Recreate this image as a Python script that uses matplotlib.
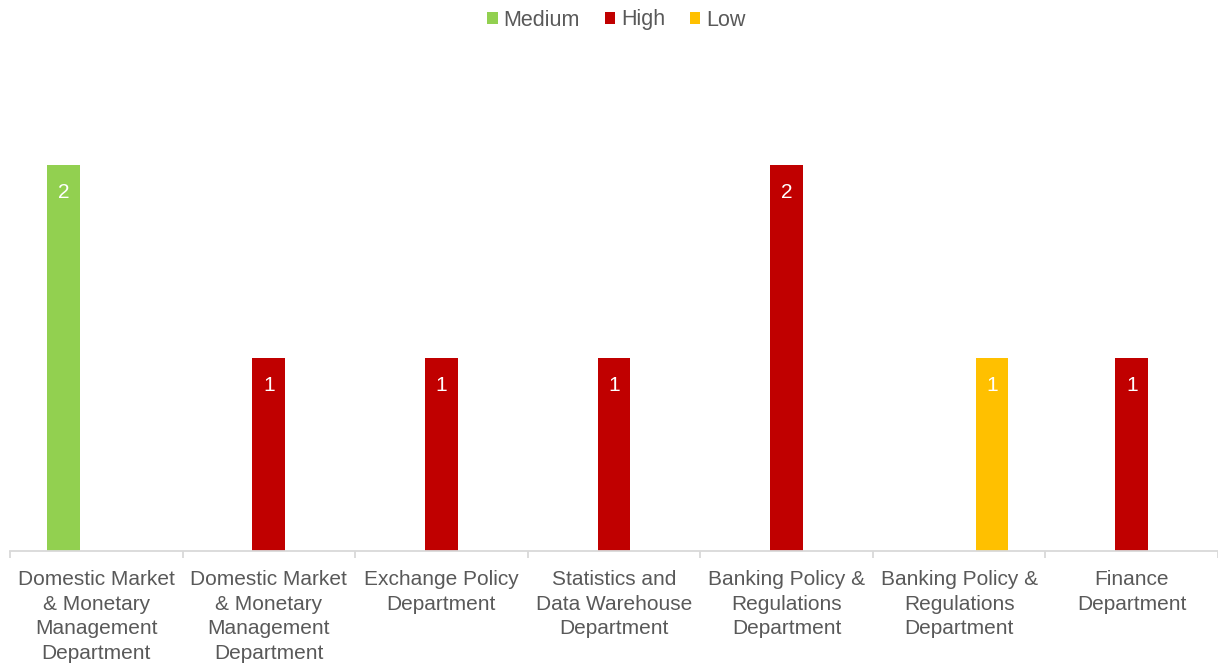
import matplotlib
matplotlib.use('Agg')
import matplotlib.pyplot as plt
import numpy as np

categories = [
    'Domestic Market\n& Monetary\nManagement\nDepartment',
    'Domestic Market\n& Monetary\nManagement\nDepartment',
    'Exchange Policy\nDepartment',
    'Statistics and\nData Warehouse\nDepartment',
    'Banking Policy &\nRegulations\nDepartment',
    'Banking Policy &\nRegulations\nDepartment',
    'Finance\nDepartment',
]
series_names = ['Medium', 'High', 'Low']
medium = [2, 0, 0, 0, 0, 0, 0]
high = [0, 1, 1, 1, 2, 0, 1]
low = [0, 0, 0, 0, 0, 1, 0]
colors = ['#92D050', '#C00000', '#FFC000']

plt.rcParams['font.family'] = ['Liberation Sans', 'DejaVu Sans']
text_color = '#595959'

fig = plt.figure(figsize=(12.18, 6.63), dpi=100)
ax = fig.add_axes([10 / 1218, 1 - 551 / 663, 1208 / 1218, (551 - 68.5) / 663])

x = np.arange(len(categories))
w = 0.19
handles = []
for i, (name, vals, c) in enumerate(zip(series_names, [medium, high, low], colors)):
    pos = x + (i - 1) * w
    bars = ax.bar(pos, vals, width=w, color=c, label=name)
    handles.append(bars)
    for p, v in zip(pos, vals):
        if v:
            ax.annotate(str(v), (p, v), xytext=(0, -19.5), textcoords='offset points',
                        ha='center', va='center', color='white', fontsize=15)

ax.set_xlim(-0.5, len(categories) - 0.5)
ax.set_ylim(0, 2.5)
ax.set_yticks([])
for s in ['top', 'right', 'left']:
    ax.spines[s].set_visible(False)
ax.spines['bottom'].set_color('#D9D9D9')
ax.spines['bottom'].set_linewidth(1.3)

ax.set_xticks(x)
ax.set_xticklabels(categories, fontsize=15, color=text_color, linespacing=1.36)
ax.tick_params(axis='x', which='major', length=0, pad=14)
ax.set_xticks(np.arange(-0.5, len(categories) + 0.5, 1), minor=True)
ax.tick_params(axis='x', which='minor', length=5, color='#D9D9D9', width=1.3)

fig.legend(handles=handles, labels=series_names, loc='center', bbox_to_anchor=(0.506, 1 - 20 / 663),
           ncol=3, frameon=False, fontsize=15.5, handlelength=0.5, handleheight=0.5,
           handletextpad=0.25, columnspacing=1.15, labelcolor=text_color)

fig.savefig('out.png', dpi=100)
